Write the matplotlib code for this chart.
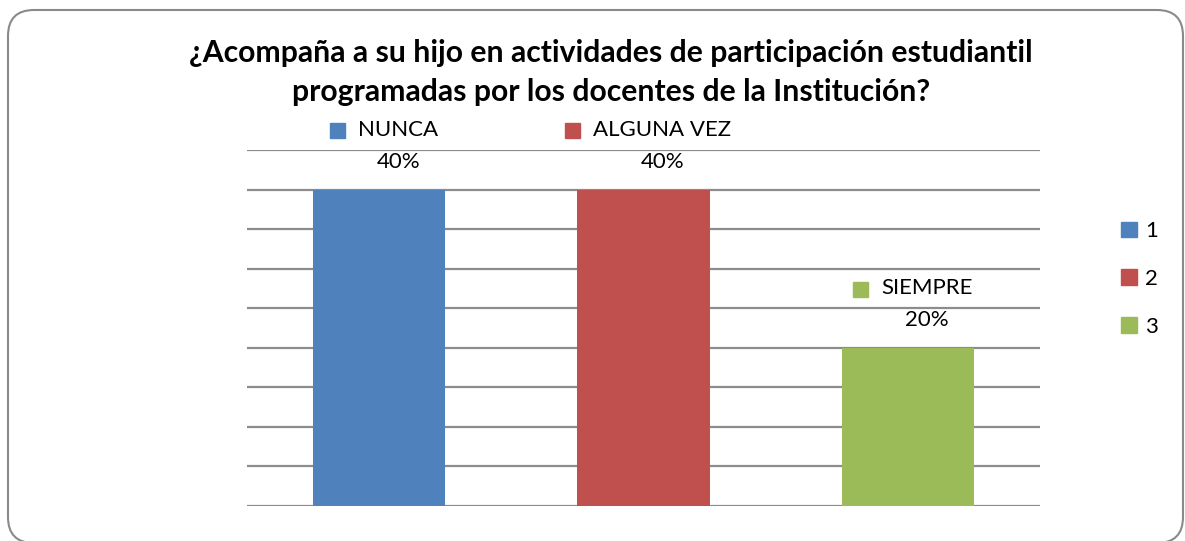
import matplotlib.pyplot as plt
from matplotlib.patches import FancyBboxPatch, Patch, Rectangle
from matplotlib.transforms import IdentityTransform

# data
categorias = ["NUNCA", "ALGUNA VEZ", "SIEMPRE"]
porcentajes = [40, 40, 20]
leyenda = ["1", "2", "3"]
colores = ["#4F81BD", "#C0504D", "#9BBB59"]
titulo = ("¿Acompaña a su hijo en actividades de participación estudiantil\n"
          "programadas por los docentes de la Institución?")

plt.rcParams['font.family'] = ['Lato', 'DejaVu Sans']

W, H = 1185, 541
fig = plt.figure(figsize=(W / 100, H / 100), dpi=100)

# rounded outer frame (pixel coords, y from bottom)
frame = FancyBboxPatch((8, -2), 1183 - 8, H - 10 + 2,
                       boxstyle="round,pad=0,rounding_size=26",
                       transform=IdentityTransform(), fill=False,
                       edgecolor="#8a8a8a", linewidth=1.5)
fig.patches.append(frame)

ax = fig.add_axes([247 / W, 35 / H, (1040 - 247) / W, (506 - 150) / H])
x = range(len(categorias))
ax.bar(x, porcentajes, width=0.5, color=colores, zorder=3)
ax.set_xlim(-0.5, 2.5)
ax.set_ylim(0, 45)
ax.set_yticks(range(0, 46, 5))
ax.yaxis.grid(True, color="#8c8c8c", linewidth=1.6, zorder=0)
ax.set_xticks([])
ax.tick_params(axis="y", length=0, labelleft=False)
for s in ax.spines.values():
    s.set_visible(False)

fig.text(611 / W, 1 - 72.5 / H, titulo, ha="center", va="center",
         fontsize=21.7, fontweight="bold", linespacing=1.45)

# data labels: percentage + series name with colour square
fig.canvas.draw()
r = fig.canvas.get_renderer()
for i, (c, v, col) in enumerate(zip(categorias, porcentajes, colores)):
    ax.annotate(f"{v}%", (i, v), xytext=(13.7, 20), textcoords="offset points",
                ha="center", va="center", fontsize=16)
    t = ax.annotate(c, (i, v), xytext=(13.7, 43), textcoords="offset points",
                    ha="center", va="center", fontsize=16)
    bb = t.get_window_extent(r)
    sq = 15
    fig.patches.append(Rectangle((bb.x0 - 13 - sq, bb.y0 + bb.height / 2 - sq / 2 - 1),
                                 sq, sq, transform=IdentityTransform(),
                                 color=col))

handles = [Patch(color=col) for col in colores]
fig.legend(handles, leyenda, loc="center left",
           bbox_to_anchor=(1101 / W, 1 - 279 / H), frameon=False,
           fontsize=16, handlelength=0.7, handleheight=0.7,
           handletextpad=0.4, labelspacing=1.25)

fig.savefig("out.png", dpi=100)
